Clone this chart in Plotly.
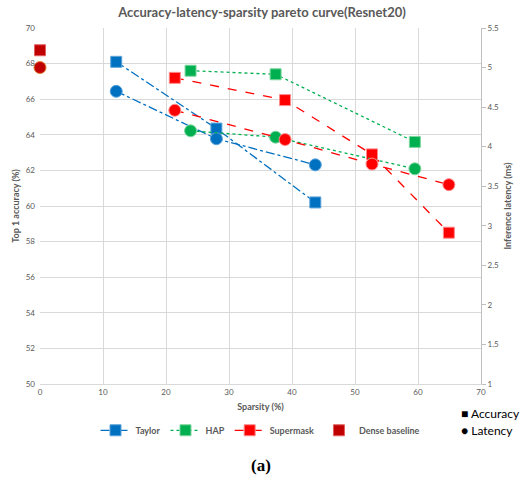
import plotly.graph_objects as go

# ---- data ----
taylor_sparsity = [12.1, 28.0, 43.7]
taylor_accuracy = [68.1, 64.35, 60.2]
taylor_latency = [4.70, 4.10, 3.77]

hap_sparsity = [23.9, 37.4, 59.5]
hap_accuracy = [67.6, 67.4, 63.6]
hap_latency = [4.20, 4.12, 3.72]

supermask_sparsity = [21.4, 38.9, 52.7, 64.9]
supermask_accuracy = [67.2, 65.95, 62.9, 58.5]
supermask_latency = [4.46, 4.09, 3.78, 3.52]

dense_sparsity = [0]
dense_accuracy = [68.75]
dense_latency = [5.0]

series = [
    ("Taylor", taylor_sparsity, taylor_accuracy, taylor_latency, "#0070C0", "#5BA3DA", "dashdot"),
    ("HAP", hap_sparsity, hap_accuracy, hap_latency, "#00B050", "#7FD6A0", "dot"),
    ("Supermask", supermask_sparsity, supermask_accuracy, supermask_latency, "#FF0000", "#FF8A8A", "dash"),
]

grey = "#595959"
font_family = "Lato, 'Open Sans', sans-serif"

fig = go.Figure()
for name, xs, acc, lat, col, edge, dash in series:
    fig.add_trace(go.Scatter(
        x=xs, y=acc, name="<b>" + name + "</b>", legendgroup=name, mode="lines+markers",
        line=dict(color=col, width=1.3, dash=dash),
        marker=dict(symbol="square", size=11, color=col, line=dict(color=edge, width=1)),
        yaxis="y", cliponaxis=False,
    ))
    fig.add_trace(go.Scatter(
        x=xs, y=lat, name=name, legendgroup=name, showlegend=False, mode="lines+markers",
        line=dict(color=col, width=1.3, dash=dash),
        marker=dict(symbol="circle", size=12, color=col, line=dict(color=edge, width=1)),
        yaxis="y2", cliponaxis=False,
    ))

fig.add_trace(go.Scatter(
    x=dense_sparsity, y=dense_accuracy, name="<b>Dense baseline</b>", legendgroup="dense",
    mode="markers", marker=dict(symbol="square", size=11, color="#C00000", line=dict(color="#E06060", width=1)),
    yaxis="y", cliponaxis=False,
))
fig.add_trace(go.Scatter(
    x=dense_sparsity, y=dense_latency, name="Dense baseline", legendgroup="dense", showlegend=False,
    mode="markers", marker=dict(symbol="circle", size=12, color="#C00000", line=dict(color="#E08030", width=1)),
    yaxis="y2", cliponaxis=False,
))

fig.update_layout(
    width=524, height=480,
    margin=dict(l=40, r=43, t=28, b=96),
    paper_bgcolor="white", plot_bgcolor="white",
    font=dict(family=font_family, size=8, color=grey),
    title=dict(text="<b>Accuracy-latency-sparsity pareto curve(Resnet20)</b>",
               x=0.5, xanchor="center", y=0.975, yanchor="middle",
               font=dict(size=13, color=grey)),
    xaxis=dict(range=[0, 70], dtick=10, showgrid=True, gridcolor="#D9D9D9", gridwidth=1,
               zeroline=False, showline=True, linecolor="#D9D9D9",
               title=dict(text="<b>Sparsity (%)</b>", font=dict(size=9, color=grey), standoff=8),
               tickfont=dict(size=8, color=grey)),
    yaxis=dict(range=[50, 70], dtick=2, showgrid=True, gridcolor="#D9D9D9", gridwidth=1,
               zeroline=False, ticklabelstandoff=4,
               title=dict(text="<b>Top 1 accuracy (%)</b>", font=dict(size=9, color=grey), standoff=4),
               tickfont=dict(size=8, color=grey)),
    yaxis2=dict(range=[1, 5.5], dtick=0.5, overlaying="y", side="right", showgrid=False,
                zeroline=False, showline=True, linecolor="#BFBFBF",
                ticks="outside", ticklen=4, tickcolor="#BFBFBF",
                title=dict(text="<b>Inference latency (ms)</b>", font=dict(size=9, color=grey), standoff=6),
                tickfont=dict(size=8, color=grey)),
    legend=dict(orientation="h", x=0.5, xanchor="center", y=-0.13, yanchor="middle",
                font=dict(size=9, color=grey, family=font_family), itemwidth=30,
                bgcolor="rgba(0,0,0,0)"),
    showlegend=True,
)

fig.add_annotation(text="■ Accuracy", xref="paper", yref="paper",
                   x=1.0, y=-0.083, xanchor="left", yanchor="middle", showarrow=False,
                   font=dict(size=12, color="black", family=font_family), xshift=-22)
fig.add_annotation(text="● Latency", xref="paper", yref="paper",
                   x=1.0, y=-0.131, xanchor="left", yanchor="middle", showarrow=False,
                   font=dict(size=12, color="black", family=font_family), xshift=-22)
fig.add_annotation(text="<b>(a)</b>", xref="paper", yref="paper", x=0.5, y=-0.23,
                   xanchor="center", yanchor="middle", showarrow=False,
                   font=dict(size=17, color="black", family="'Liberation Serif', serif"))

fig.write_html("out.html")
